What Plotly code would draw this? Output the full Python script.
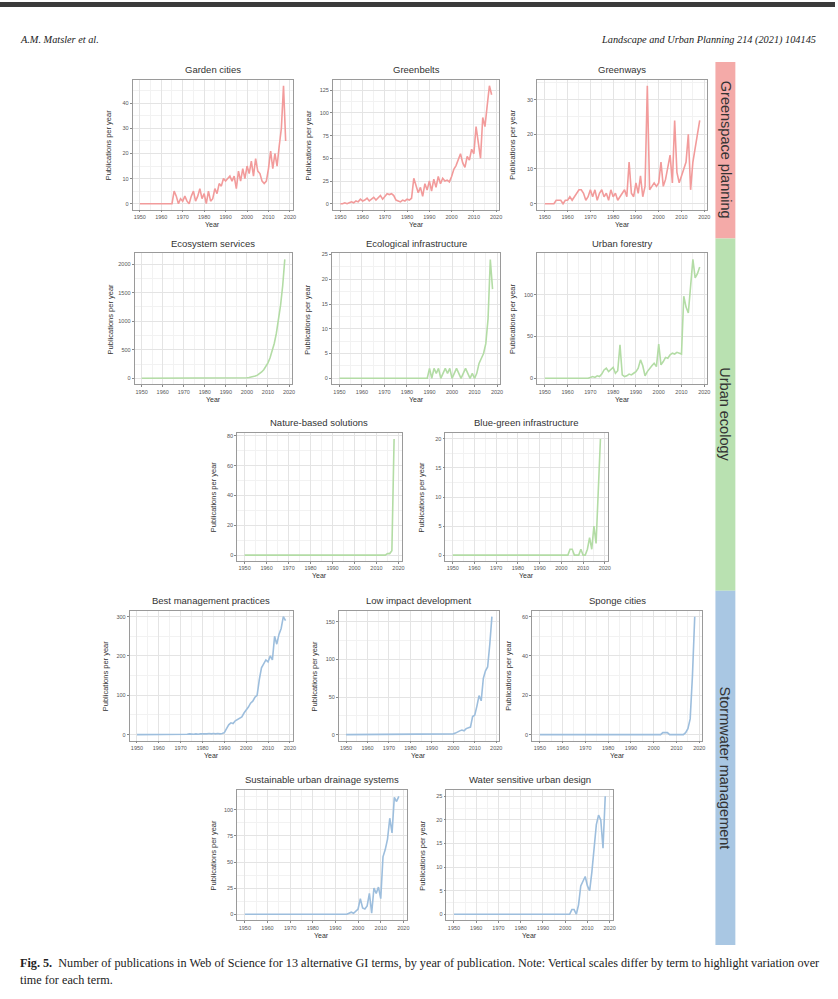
import plotly.graph_objects as go

# ---------------- data (publications per year, 1950-2018) ----------------
start_year = 1950
garden_cities = [0,0,0,0,0,0,0,0,0,0, 0,0,0,0,0,0,5,3,0,2, 1,3,1,0,3,5,1,3,6,2,
                 4,0,5,1,2,6,4,8,7,10, 9,10,11,9,11,6,13,9,14,10, 15,12,17,11,18,13,12,9,8,9,
                 14,21,14,20,15,23,30,47,25]
greenbelts = [0,0,1,0,1,2,1,3,2,5, 3,4,6,3,5,7,4,6,9,5, 8,11,10,11,9,4,3,2,4,3,
              5,4,6,28,20,12,18,8,22,15, 25,14,27,18,30,22,28,25,26,24, 30,38,42,48,55,45,40,52,48,60,
              55,85,70,50,95,85,108,130,120]
greenways = [0,0,0,0,0,1,1,1,0,1, 1,2,1,2,3,4,4,3,1,2, 4,2,4,1,3,4,2,3,1,4,
             2,3,1,2,3,4,2,12,3,2, 6,3,8,2,5,34,4,5,6,5, 6,12,5,7,10,14,6,24,9,6,
             8,10,12,20,4,12,16,20,24]
ecosystem_services = [0,0,0,0,0,0,0,0,0,0, 0,0,0,0,0,0,0,0,0,0, 0,0,0,0,0,0,0,0,0,0,
                      0,0,0,0,0,0,0,0,0,0, 0,0,0,0,0,0,1,2,4,6, 10,14,20,28,40,55,80,110,150,205,
                      270,360,470,610,790,1010,1280,1620,2080]
ecological_infrastructure = [0,0,0,0,0,0,0,0,0,0, 0,0,0,0,0,0,0,0,0,0, 0,0,0,0,0,0,0,0,0,0,
                             0,0,0,0,0,0,0,0,0,0, 2,0,2,1,2,0,1,2,1,2, 0,1,2,1,0,1,2,1,0,1,
                             0,1,3,4,5,7,12,24,18]
urban_forestry = [0,0,0,0,0,0,0,0,0,0, 0,0,0,0,0,0,0,0,0,0, 1,2,1,3,2,5,10,12,8,10,
                  13,6,9,40,4,2,3,5,4,6, 8,12,22,15,3,8,12,15,18,14, 41,16,20,25,24,28,30,29,31,30,
                  29,98,85,78,110,142,120,125,133]
nature_based_solutions = [0,0,0,0,0,0,0,0,0,0, 0,0,0,0,0,0,0,0,0,0, 0,0,0,0,0,0,0,0,0,0,
                          0,0,0,0,0,0,0,0,0,0, 0,0,0,0,0,0,0,0,0,0, 0,0,0,0,0,0,0,0,0,0,
                          0,0,0,0,0,1,1,3,78]
blue_green_infrastructure = [0,0,0,0,0,0,0,0,0,0, 0,0,0,0,0,0,0,0,0,0, 0,0,0,0,0,0,0,0,0,0,
                             0,0,0,0,0,0,0,0,0,0, 0,0,0,0,0,0,0,0,0,0, 0,0,0,0,1,1,0,0,0,1,
                             0,0,1,3,1,5,2,11,20]
best_management_practices = [0,0,0,0,0,0,0,0,0,0, 0,0,0,0,0,0,1,0,0,1, 1,0,1,1,2,1,1,2,1,2,
                             2,1,2,3,2,3,2,3,2,3, 5,15,25,30,28,35,38,42,45,55, 62,70,80,85,95,100,140,170,180,190,
                             185,200,190,250,230,255,270,300,290]
low_impact_development = [0,0,0,0,0,0,0,0,0,0, 0,0,0,0,0,0,0,0,0,0, 0,0,0,0,0,0,0,0,0,0,
                          0,0,0,0,0,0,0,0,0,0, 0,0,0,0,0,0,0,0,0,0, 1,2,4,5,6,5,8,9,10,24,
                          26,38,52,45,75,85,90,120,157]
sponge_cities = [0,0,0,0,0,0,0,0,0,0, 0,0,0,0,0,0,0,0,0,0, 0,0,0,0,0,0,0,0,0,0,
                 0,0,0,0,0,0,0,0,0,0, 0,0,0,0,0,0,0,0,0,0, 0,0,0,0,1,1,1,0,0,0,
                 0,0,0,0,1,3,8,30,60]
sustainable_urban_drainage = [0,0,0,0,0,0,0,0,0,0, 0,0,0,0,0,0,0,0,0,0, 0,0,0,0,0,0,0,0,0,0,
                              0,0,0,0,0,0,0,0,0,0, 0,0,0,0,0,0,1,2,1,3, 5,15,6,5,8,20,1,25,20,26,
                              15,55,62,72,92,78,112,108,113]
water_sensitive_urban_design = [0,0,0,0,0,0,0,0,0,0, 0,0,0,0,0,0,0,0,0,0, 0,0,0,0,0,0,0,0,0,0,
                                0,0,0,0,0,0,0,0,0,0, 0,0,0,0,0,0,0,0,0,0, 0,0,0,1,1,0,2,6,7,8,
                                6,5,9,14,19,21,20,14,25]

titles = ["Garden cities", "Greenbelts", "Greenways",
          "Ecosystem services", "Ecological infrastructure", "Urban forestry",
          "Nature-based solutions", "Blue-green infrastructure",
          "Best management practices", "Low impact development", "Sponge cities",
          "Sustainable urban drainage systems", "Water sensitive urban design"]
series = [garden_cities, greenbelts, greenways,
          ecosystem_services, ecological_infrastructure, urban_forestry,
          nature_based_solutions, blue_green_infrastructure,
          best_management_practices, low_impact_development, sponge_cities,
          sustainable_urban_drainage, water_sensitive_urban_design]
y_steps = [10, 25, 10, 500, 5, 50, 20, 5, 100, 50, 20, 25, 5]
groups = ["g", "g", "g", "e", "e", "e", "e", "e", "s", "s", "s", "s", "s"]
group_labels = ["Greenspace planning", "Urban ecology", "Stormwater management"]

# ---------------- styling / layout ----------------
W, H = 838, 999
line_colors = {"g": "#F29B9B", "e": "#B3DCA5", "s": "#9DBEDD"}
band_colors = ["#F4AAA8", "#B9E1B1", "#A9C7E3"]
band_spans = [(60, 237), (237, 590), (590, 945)]

# panel rectangles in pixels: (x0, x1, y0, y1)
rects = [(133, 294, 78, 208), (334, 501, 78, 208), (539, 710, 78, 208),
         (135, 293, 252, 383), (333, 502, 252, 383), (539, 710, 252, 383),
         (238, 403, 432, 560), (447, 610, 432, 560),
         (130, 294, 610, 740), (340, 501, 610, 740), (534, 705, 610, 740),
         (238, 408, 790, 920), (448, 615, 790, 920)]

def px(x):
    return x / W

def py(y):
    return 1 - y / H

fig = go.Figure()
annotations = []
shapes = []
layout_axes = {}
font_family = "Liberation Sans, Arial, sans-serif"

for i, (vals, title, step, grp, r) in enumerate(zip(series, titles, y_steps, groups, rects)):
    n = i + 1
    xa = "x" if n == 1 else f"x{n}"
    ya = "y" if n == 1 else f"y{n}"
    years = list(range(start_year, start_year + len(vals)))
    fig.add_trace(go.Scatter(x=years, y=vals, mode="lines", xaxis=xa, yaxis=ya,
                             line=dict(color=line_colors[grp], width=1.6),
                             showlegend=False, hoverinfo="skip"))
    x0, x1, y0, y1 = r
    vmax = max(vals)
    span = vmax
    yr = [-0.05 * span, vmax + 0.05 * span]
    xr = [start_year - 0.05 * (len(vals) - 1), start_year + len(vals) - 1 + 0.05 * (len(vals) - 1)]
    common = dict(showline=True, mirror=True, linecolor="#9a9a9a", linewidth=0.7,
                  showgrid=True, gridcolor="#e4e4e4", gridwidth=0.6,
                  zeroline=False, ticks="outside", ticklen=2, tickcolor="#888",
                  tickfont=dict(size=5.5, color="#555", family=font_family),
                  tickformat="d")
    layout_axes[("xaxis" if n == 1 else f"xaxis{n}")] = dict(
        domain=[px(x0), px(x1)], anchor=ya, range=xr, tick0=1950, dtick=10,
        minor=dict(dtick=5, tick0=1950, showgrid=True, gridcolor="#f2f2f2", ticklen=0),
        fixedrange=True, **common)
    layout_axes[("yaxis" if n == 1 else f"yaxis{n}")] = dict(
        domain=[py(y1), py(y0)], anchor=xa, range=yr, tick0=0, dtick=step,
        minor=dict(dtick=step / 2, tick0=0, showgrid=True, gridcolor="#f2f2f2", ticklen=0),
        fixedrange=True, **common)
    cx = (x0 + x1) / 2
    annotations.append(dict(text=title, x=px(cx), y=py(y0 - 3), xref="paper", yref="paper",
                            xanchor="center", yanchor="bottom", showarrow=False,
                            font=dict(size=9.5, color="#333", family=font_family)))
    annotations.append(dict(text="Publications per year", x=px(x0 - 24), y=py((y0 + y1) / 2),
                            xref="paper", yref="paper", xanchor="center", yanchor="middle",
                            textangle=-90, showarrow=False,
                            font=dict(size=7.5, color="#333", family=font_family)))
    annotations.append(dict(text="Year", x=px(cx), y=py(y1 + 15), xref="paper", yref="paper",
                            xanchor="center", yanchor="middle", showarrow=False,
                            font=dict(size=7, color="#333", family=font_family)))

# side group bands
for (b0, b1), col, lab in zip(band_spans, band_colors, group_labels):
    shapes.append(dict(type="rect", xref="paper", yref="paper", x0=px(718), x1=px(738),
                       y0=py(b1), y1=py(b0), fillcolor=col, line=dict(width=0), layer="below"))
    annotations.append(dict(text=lab, x=px(728), y=py((b0 + b1) / 2), xref="paper", yref="paper",
                            xanchor="center", yanchor="middle", textangle=90, showarrow=False,
                            font=dict(size=14.5, color="#333", family=font_family)))

# top dark strip
shapes.append(dict(type="rect", xref="paper", yref="paper", x0=0, x1=1, y0=py(5), y1=1,
                   fillcolor="#3b3b3b", line=dict(width=0)))

serif = "Liberation Serif, Times New Roman, serif"
annotations.append(dict(text="<i>A.M. Matsler et al.</i>", x=px(18), y=py(38), xref="paper",
                        yref="paper", xanchor="left", yanchor="middle", showarrow=False,
                        font=dict(size=10.3, color="#222", family=serif)))
annotations.append(dict(text="<i>Landscape and Urban Planning 214 (2021) 104145</i>", x=px(821),
                        y=py(38), xref="paper", yref="paper", xanchor="right", yanchor="middle",
                        showarrow=False, font=dict(size=10.3, color="#222", family=serif)))
annotations.append(dict(text="<b>Fig. 5.</b>  Number of publications in Web of Science for 13 alternative GI terms, "
                             "by year of publication. Note: Vertical scales differ by term to highlight variation over",
                        x=px(18), y=py(963), xref="paper", yref="paper", xanchor="left",
                        yanchor="middle", showarrow=False, font=dict(size=12.2, color="#222", family=serif)))
annotations.append(dict(text="time for each term.", x=px(18), y=py(980), xref="paper", yref="paper",
                        xanchor="left", yanchor="middle", showarrow=False,
                        font=dict(size=12.2, color="#222", family=serif)))

fig.update_layout(width=W, height=H, margin=dict(l=0, r=0, t=0, b=0),
                  paper_bgcolor="white", plot_bgcolor="white",
                  annotations=annotations, shapes=shapes, **layout_axes)

fig.write_html("out.html", config={"displayModeBar": False},
               post_script="document.body.style.margin='0';")
